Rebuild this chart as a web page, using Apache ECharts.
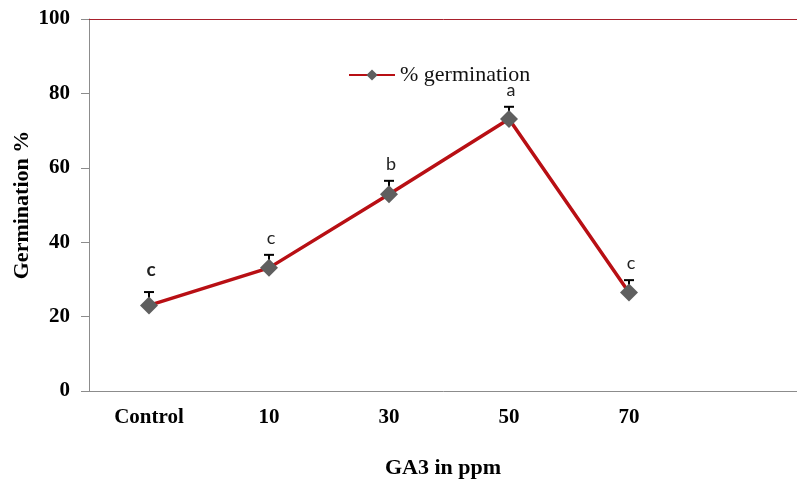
<!DOCTYPE html>
<html>
<head>
<meta charset="utf-8">
<script src="https://cdn.jsdelivr.net/npm/echarts@6/dist/echarts.min.js"></script>
<style>
  html, body { margin: 0; padding: 0; background: #fff; overflow: hidden; }
  #chart { width: 797px; height: 481px; }
</style>
</head>
<body>
<div id="chart"></div>
<script>
// GA3 treatments (the last slot is left empty on the axis)
const categories = ['Control', '10', '30', '50', '70', ''];
// Mean germination percentage per treatment
const germination = [23.0, 33.1, 52.9, 73.1, 26.5];
// Upper error (standard error) per treatment
const errors = [3.6, 3.5, 3.6, 3.3, 3.3];
// Significance letters shown above each point
const letters = ['c', 'c', 'b', 'a', 'c'];
const letterBold = [true, false, false, false, false];

const serif = '"Liberation Serif", "Times New Roman", serif';
const sans = 'Lato, "Liberation Sans", sans-serif';

const chart = echarts.init(document.getElementById('chart'));

chart.setOption({
  animation: false,
  backgroundColor: '#fff',
  grid: { left: 89, top: 19, bottom: 90, right: -12, outerBoundsMode: 'none', containLabel: false },
  legend: {
    left: 343, top: 59,
    itemWidth: 46, itemHeight: 14,
    itemGap: 4,
    textStyle: { fontFamily: serif, fontSize: 22, color: '#111' },
    data: ['% germination']
  },
  xAxis: [{
    type: 'category',
    data: categories,
    boundaryGap: true,
    name: 'GA3 in ppm',
    nameLocation: 'middle',
    nameGap: 66,
    nameMoveOverlap: false,
    nameTextStyle: { fontFamily: serif, fontSize: 22, fontWeight: 'bold', color: '#000', padding: [0, 12, 0, 0] },
    axisLine: { lineStyle: { color: '#8c8c8c', width: 1 } },
    axisTick: { length: 8, lineStyle: { color: '#8c8c8c' } },
    axisLabel: { margin: 16, fontFamily: serif, fontSize: 21, fontWeight: 'bold', color: '#000' }
  }, {
    type: 'category',
    data: categories,
    position: 'top',
    axisLine: { lineStyle: { color: '#a8202c', width: 1 } },
    axisTick: { show: false },
    axisLabel: { show: false }
  }],
  yAxis: {
    type: 'value',
    min: 0, max: 100, interval: 20,
    name: 'Germination %',
    nameLocation: 'middle',
    nameGap: 56,
    nameRotate: 90,
    nameMoveOverlap: false,
    nameTextStyle: { fontFamily: serif, fontSize: 22, fontWeight: 'bold', color: '#000' },
    axisLine: { show: true, lineStyle: { color: '#8c8c8c', width: 1 } },
    axisTick: { show: true, length: 8, lineStyle: { color: '#8c8c8c' } },
    axisLabel: { margin: 19, fontFamily: serif, fontSize: 21, fontWeight: 'bold', color: '#000' },
    splitLine: { show: false }
  },
  series: [{
    // upward error bars with caps
    type: 'custom',
    z: 2,
    silent: true,
    data: germination.map((v, i) => [i, v, v + errors[i]]),
    renderItem: function (params, api) {
      const base = api.coord([api.value(0), api.value(1)]);
      const top = api.coord([api.value(0), api.value(2)]);
      const half = 5;
      return {
        type: 'group',
        children: [
          { type: 'line', shape: { x1: base[0], y1: base[1], x2: top[0], y2: top[1] },
            style: { stroke: '#000', lineWidth: 2 } },
          { type: 'line', shape: { x1: top[0] - half, y1: top[1], x2: top[0] + half, y2: top[1] },
            style: { stroke: '#000', lineWidth: 2 } }
        ]
      };
    }
  }, {
    name: '% germination',
    type: 'line',
    z: 3,
    data: germination,
    symbol: 'diamond',
    symbolSize: 18,
    lineStyle: { color: '#b80f14', width: 3.5 },
    itemStyle: { color: '#5f5f5f' }
  }, {
    // significance letters above each error bar
    type: 'custom',
    z: 4,
    silent: true,
    data: germination.map((v, i) => [i, v + errors[i]]),
    renderItem: function (params, api) {
      const i = params.dataIndex;
      const p = api.coord([api.value(0), api.value(1)]);
      const bold = letterBold[i];
      return {
        type: 'text',
        x: p[0] + 2,
        y: p[1] - (bold ? 22 : 17),
        style: {
          text: letters[i],
          fontFamily: sans,
          fontSize: bold ? 19 : 18,
          fontWeight: bold ? 'bold' : 'normal',
          fill: '#222',
          align: 'center',
          verticalAlign: 'middle'
        }
      };
    }
  }]
});
</script>
</body>
</html>
